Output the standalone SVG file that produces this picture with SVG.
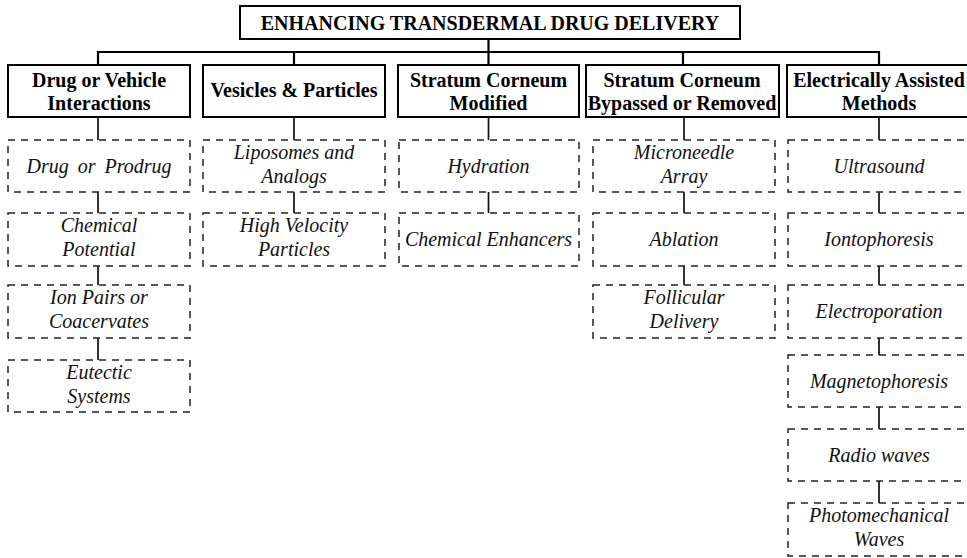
<svg xmlns="http://www.w3.org/2000/svg" width="967" height="558" viewBox="0 0 967 558">
<style>
.bg{fill:#fff}
.cat{fill:#fff;stroke:#000;stroke-width:2}
.sub{fill:#fff;stroke:#222;stroke-width:1.5;stroke-dasharray:7 6}
.b{font-family:"Liberation Serif","Times New Roman",serif;font-weight:bold;font-size:20px;fill:#000;text-anchor:middle}
.i{font-family:"Liberation Serif","Times New Roman",serif;font-style:italic;font-size:20px;fill:#111;text-anchor:middle}
.c{fill:none;stroke:#000;stroke-width:2.2}
.cs{fill:none;stroke:#111;stroke-width:1.7}
</style>
<rect class="bg" x="0" y="0" width="967" height="558"/>
<g id="connectors">
<path class="c" d="M488.5 39V52M98 52H879M98 51V65M294 51V65M488.5 51V65M683 51V65M879 51V65"/>
<path class="cs" d="M98 117V140M98 192V213M98 266V285M98 338V360"/>
<path class="cs" d="M294 117V140M294 192V213"/>
<path class="cs" d="M488.5 117V140M488.5 192V213"/>
<path class="cs" d="M684 117V140M684 192V213M684 266V285"/>
<path class="cs" d="M879 117V140M879 192V213M879 266V285M879 338V355M879 407V429M879 481V503"/>
</g>
<g id="root">
<rect class="cat" x="240" y="6" width="500" height="33"/>
<text class="b" x="490" y="30">ENHANCING TRANSDERMAL DRUG DELIVERY</text>
</g>
<g id="cat1">
<rect class="cat" x="8" y="65" width="182" height="52"/>
<text class="b" x="99" y="87">Drug or Vehicle</text>
<text class="b" x="99" y="110">Interactions</text>
</g>
<g id="cat2">
<rect class="cat" x="203" y="65" width="182" height="52"/>
<text class="b" x="294" y="97">Vesicles &amp; Particles</text>
</g>
<g id="cat3">
<rect class="cat" x="398" y="65" width="181" height="52"/>
<text class="b" x="488.5" y="87">Stratum Corneum</text>
<text class="b" x="488.5" y="110">Modified</text>
</g>
<g id="cat4">
<rect class="cat" x="586" y="65" width="193" height="52"/>
<text class="b" x="682" y="87">Stratum Corneum</text>
<text class="b" x="682" y="110">Bypassed or Removed</text>
</g>
<g id="cat5">
<rect class="cat" x="787" y="65" width="190" height="52"/>
<text class="b" x="879" y="87">Electrically Assisted</text>
<text class="b" x="879" y="110">Methods</text>
</g>
<g id="c1r1"><rect class="sub" x="8" y="140" width="182" height="52"/><text class="i" x="99" y="173" word-spacing="4">Drug or Prodrug</text></g>
<g id="c1r2"><rect class="sub" x="8" y="213" width="182" height="53"/><text class="i" x="99" y="232">Chemical</text><text class="i" x="99" y="256">Potential</text></g>
<g id="c1r3"><rect class="sub" x="8" y="285" width="182" height="53"/><text class="i" x="99" y="304">Ion Pairs or</text><text class="i" x="99" y="328">Coacervates</text></g>
<g id="c1r4"><rect class="sub" x="8" y="360" width="182" height="52"/><text class="i" x="99" y="379">Eutectic</text><text class="i" x="99" y="403">Systems</text></g>
<g id="c2r1"><rect class="sub" x="203" y="140" width="182" height="52"/><text class="i" x="294" y="159">Liposomes and</text><text class="i" x="294" y="183">Analogs</text></g>
<g id="c2r2"><rect class="sub" x="203" y="213" width="182" height="53"/><text class="i" x="294" y="232">High Velocity</text><text class="i" x="294" y="256">Particles</text></g>
<g id="c3r1"><rect class="sub" x="399" y="140" width="180" height="52"/><text class="i" x="488.5" y="173">Hydration</text></g>
<g id="c3r2"><rect class="sub" x="399" y="213" width="180" height="53"/><text class="i" x="488.5" y="246">Chemical Enhancers</text></g>
<g id="c4r1"><rect class="sub" x="593" y="140" width="182" height="52"/><text class="i" x="684" y="159">Microneedle</text><text class="i" x="684" y="183">Array</text></g>
<g id="c4r2"><rect class="sub" x="593" y="213" width="182" height="53"/><text class="i" x="684" y="246">Ablation</text></g>
<g id="c4r3"><rect class="sub" x="593" y="285" width="182" height="53"/><text class="i" x="684" y="304">Follicular</text><text class="i" x="684" y="328">Delivery</text></g>
<g id="c5r1"><rect class="sub" x="788" y="140" width="184" height="52"/><text class="i" x="879" y="173">Ultrasound</text></g>
<g id="c5r2"><rect class="sub" x="788" y="213" width="184" height="53"/><text class="i" x="879" y="246">Iontophoresis</text></g>
<g id="c5r3"><rect class="sub" x="788" y="285" width="184" height="53"/><text class="i" x="879" y="318">Electroporation</text></g>
<g id="c5r4"><rect class="sub" x="788" y="355" width="184" height="52"/><text class="i" x="879" y="388">Magnetophoresis</text></g>
<g id="c5r5"><rect class="sub" x="788" y="429" width="184" height="52"/><text class="i" x="879" y="462">Radio waves</text></g>
<g id="c5r6"><rect class="sub" x="788" y="503" width="184" height="53"/><text class="i" x="879" y="522">Photomechanical</text><text class="i" x="879" y="546">Waves</text></g>
</svg>
